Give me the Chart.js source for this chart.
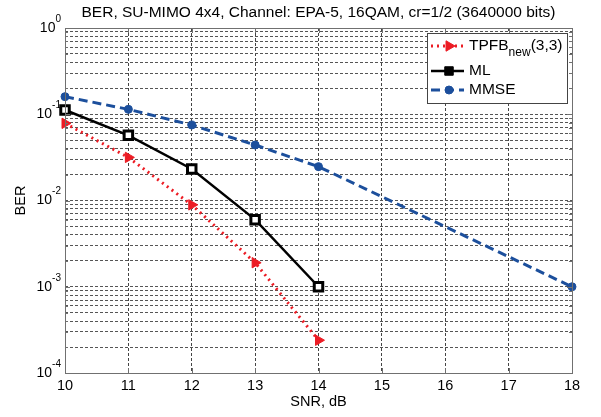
<!DOCTYPE html>
<html>
<head>
<meta charset="utf-8">
<script src="https://cdn.jsdelivr.net/npm/chart.js@4.4.0/dist/chart.umd.min.js"></script>
<style>
  html, body { margin: 0; padding: 0; background: #fff; }
</style>
</head>
<body>
<canvas id="berChart" width="601" height="417"></canvas>
<script>
// data
const snr = [10, 11, 12, 13, 14];
const mmseSnr = [10, 11, 12, 13, 14, 18];
const tpfbBer = [0.0785, 0.0316, 0.0089, 0.0019, 0.00024];
const mlBer = [0.112, 0.057, 0.0232, 0.0060, 0.00100];
const mmseBer = [0.16, 0.114, 0.075, 0.044, 0.0247, 0.00100];

const xTicks = [10, 11, 12, 13, 14, 15, 16, 17, 18];
const yExponents = [-4, -3, -2, -1, 0];
const chartTitle = 'BER, SU-MIMO 4x4, Channel: EPA-5, 16QAM, cr=1/2 (3640000 bits)';

const FONT = '"Liberation Sans", Arial, sans-serif';

function toPoints(xs, ys) {
    return xs.map((x, i) => ({ x: x, y: ys[i] }));
}

// minor + major log ticks: 1..9 x 10^e
function logTicks() {
    const out = [];
    for (let i = 0; i < yExponents.length - 1; i++) {
        for (let m = 1; m <= 9; m++) {
            out.push({ value: m * Math.pow(10, yExponents[i]), major: m === 1 });
        }
    }
    out.push({ value: Math.pow(10, yExponents[yExponents.length - 1]), major: true });
    return out;
}

// title, box with inward ticks, y labels with superscripts, and the legend
const matlabLook = {
    id: 'matlabLook',
    afterDraw(chart) {
        const ctx = chart.ctx;
        const area = chart.chartArea;
        const xScale = chart.scales.x;
        const yScale = chart.scales.y;

        ctx.save();
        // axes box
        ctx.strokeStyle = '#707070';
        ctx.lineWidth = 1;
        ctx.setLineDash([]);
        ctx.strokeRect(area.left + 0.5, area.top + 0.5, area.right - area.left, area.bottom - area.top);

        // inward ticks
        ctx.beginPath();
        xTicks.forEach(v => {
            const px = Math.round(xScale.getPixelForValue(v)) + 0.5;
            ctx.moveTo(px, area.bottom);
            ctx.lineTo(px, area.bottom - 5);
            ctx.moveTo(px, area.top);
            ctx.lineTo(px, area.top + 5);
        });
        yScale.ticks.forEach(t => {
            const py = Math.round(yScale.getPixelForValue(t.value)) + 0.5;
            const len = t.major ? 5 : 3;
            ctx.moveTo(area.left, py);
            ctx.lineTo(area.left + len, py);
            ctx.moveTo(area.right, py);
            ctx.lineTo(area.right - len, py);
        });
        ctx.stroke();

        // title
        ctx.fillStyle = '#000';
        ctx.font = '15.5px ' + FONT;
        ctx.textAlign = 'center';
        ctx.textBaseline = 'middle';
        ctx.fillText(chartTitle, (area.left + area.right) / 2, 13);

        // y tick labels 10^e
        yExponents.forEach(e => {
            const py = yScale.getPixelForValue(Math.pow(10, e));
            const exp = String(e);
            ctx.font = '10px ' + FONT;
            const expW = ctx.measureText(exp).width;
            ctx.textAlign = 'left';
            ctx.textBaseline = 'middle';
            const expX = 61 - expW;
            ctx.fillText(exp, expX, py - 9);
            ctx.font = '14px ' + FONT;
            ctx.textAlign = 'right';
            ctx.fillText('10', expX, py);
        });

        // legend
        const bx = 427, by = 33, bw = 140, bh = 70;
        ctx.fillStyle = '#fff';
        ctx.fillRect(bx, by, bw, bh);
        ctx.strokeStyle = '#444';
        ctx.lineWidth = 1;
        ctx.strokeRect(bx + 0.5, by + 0.5, bw, bh);
        const rows = [46, 71, 90];
        chart.data.datasets.forEach((ds, i) => {
            const ry = rows[i];
            ctx.strokeStyle = ds.borderColor;
            ctx.lineWidth = ds.borderWidth;
            ctx.setLineDash(ds.borderDash || []);
            ctx.beginPath();
            ctx.moveTo(431, ry);
            ctx.lineTo(464, ry);
            ctx.stroke();
            ctx.setLineDash([]);
            ctx.fillStyle = ds.borderColor;
            ctx.strokeStyle = ds.borderColor;
            ctx.lineWidth = 1;
            Chart.helpers.drawPoint(ctx, {
                pointStyle: ds.pointStyle,
                rotation: ds.pointRotation || 0,
                radius: ds.pointRadius,
                borderWidth: 1
            }, 449, ry);

            ctx.fillStyle = '#000';
            ctx.textAlign = 'left';
            ctx.textBaseline = 'middle';
            let tx = 469;
            ctx.font = '15.5px ' + FONT;
            ctx.fillText(ds.label, tx, ry);
            if (ds.subLabel) {
                tx += ctx.measureText(ds.label).width;
                ctx.font = '12px ' + FONT;
                ctx.fillText(ds.subLabel, tx, ry + 7);
                tx += ctx.measureText(ds.subLabel).width;
                ctx.font = '15.5px ' + FONT;
                ctx.fillText(ds.labelTail, tx, ry);
            }
        });
        ctx.restore();
    }
};

const ctxBer = document.getElementById('berChart').getContext('2d');
const berChart = new Chart(ctxBer, {
    type: 'line',
    data: {
        datasets: [
            {
                label: 'TPFB',
                subLabel: 'new',
                labelTail: '(3,3)',
                data: toPoints(snr, tpfbBer),
                borderColor: '#ec1c24',
                backgroundColor: '#ec1c24',
                borderWidth: 3,
                borderDash: [2, 4],
                pointStyle: 'triangle',
                pointRotation: 90,
                pointRadius: 6,
                pointBorderWidth: 1,
                clip: false,
                order: 1
            },
            {
                label: 'ML',
                data: toPoints(snr, mlBer),
                borderColor: '#000000',
                backgroundColor: '#000000',
                pointBackgroundColor: '#ffffff',
                borderWidth: 2.5,
                pointStyle: 'rect',
                pointRadius: 6,
                pointBorderWidth: 3,
                clip: false,
                order: 2
            },
            {
                label: 'MMSE',
                data: toPoints(mmseSnr, mmseBer),
                borderColor: '#1c4f9c',
                backgroundColor: '#1c4f9c',
                borderWidth: 3,
                borderDash: [9, 5],
                pointStyle: 'circle',
                pointRadius: 4,
                pointBorderWidth: 1,
                clip: false,
                order: 3
            }
        ]
    },
    options: {
        responsive: false,
        animation: false,
        devicePixelRatio: 1,
        layout: { padding: { top: 28, right: 29, left: 0, bottom: 0 } },
        plugins: {
            legend: { display: false },
            tooltip: { enabled: false }
        },
        elements: { line: { tension: 0 } },
        scales: {
            x: {
                type: 'linear',
                min: 10,
                max: 18,
                afterBuildTicks: scale => { scale.ticks = xTicks.map(v => ({ value: v })); },
                afterFit: scale => { scale.height = 44; },
                ticks: {
                    color: '#000',
                    font: { family: FONT, size: 14.5 },
                    padding: 4,
                    maxRotation: 0,
                    autoSkip: false
                },
                grid: { color: '#444', lineWidth: 1, drawTicks: false },
                border: { display: false, dash: [3, 2] },
                title: {
                    display: true,
                    text: 'SNR, dB',
                    color: '#000',
                    font: { family: FONT, size: 14.5 },
                    padding: { top: 0, bottom: 6 }
                }
            },
            y: {
                type: 'logarithmic',
                min: 1e-4,
                max: 1,
                afterBuildTicks: scale => { scale.ticks = logTicks(); },
                afterFit: scale => { scale.width = 65; },
                ticks: { display: false, autoSkip: false },
                grid: { color: '#555', lineWidth: 1, drawTicks: false },
                border: { display: false, dash: [3, 2] },
                title: {
                    display: true,
                    text: 'BER',
                    color: '#000',
                    font: { family: FONT, size: 14.5 },
                    padding: { top: 12, bottom: 12 }
                }
            }
        }
    },
    plugins: [matlabLook]
});
</script>
</body>
</html>
